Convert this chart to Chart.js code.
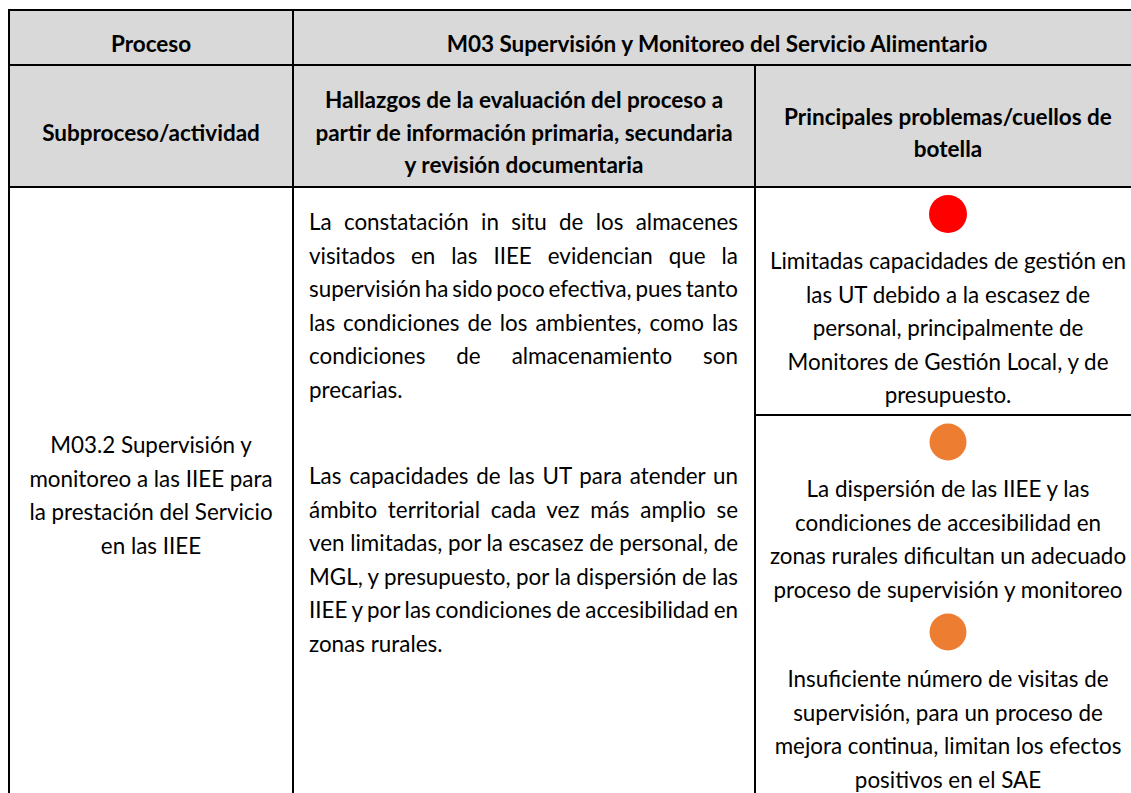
<!DOCTYPE html>
<html lang="es">
<head>
<meta charset="utf-8">
<title>M03 Supervisión y Monitoreo del Servicio Alimentario</title>
<script src="https://cdn.jsdelivr.net/npm/chart.js@4.4.1/dist/chart.umd.min.js"></script>
<style>
  html, body { margin: 0; padding: 0; background: #fff; }
  body { width: 1131px; height: 793px; overflow: hidden; position: relative;
         font-family: "Lato", "Open Sans", sans-serif; color: #000; }
  .cell { position: absolute; box-sizing: border-box; border: 2px solid #000; }
  .head { background: #d9d9d9; font-weight: bold; font-size: 22.5px; line-height: 32.5px;
          display: flex; align-items: center; justify-content: center; text-align: center; }
  .body-txt { font-size: 22.4px; line-height: 33.5px; }
  .center-v { display: flex; align-items: center; justify-content: center; text-align: center; }
  .just span { display: block; text-align: justify; text-align-last: justify; white-space: nowrap; word-spacing: -3px; }
  .just span.last { text-align-last: left; word-spacing: 0; }
  .problema { text-align: center; }
  .problema .dot { width: 40px; height: 40px; margin: 6px auto 0; position: relative; }
  .problema .txt { margin-top: 10px; white-space: nowrap; }
</style>
</head>
<body>
<div id="tabla"></div>
<script>
// --- Contenido de la tabla ---
const tituloProceso = "M03 Supervisión y Monitoreo del Servicio Alimentario";
const encabezados = ["Proceso", "Subproceso/actividad"];
const encabezadoHallazgos = ["Hallazgos de la evaluación del proceso a", "partir de información primaria, secundaria", "y revisión documentaria"];
const encabezadoProblemas = ["Principales problemas/cuellos de", "botella"];
const subproceso = ["M03.2 Supervisión y", "monitoreo a las IIEE para", "la prestación del Servicio", "en las IIEE"];

const hallazgo1 = [
  "La constatación in situ de los almacenes",
  "visitados en las IIEE evidencian que la",
  "supervisión ha sido poco efectiva, pues tanto",
  "las condiciones de los ambientes, como las",
  "condiciones de almacenamiento son",
  "precarias."
];
const hallazgo2 = [
  "Las capacidades de las UT para atender un",
  "ámbito territorial cada vez más amplio se",
  "ven limitadas, por la escasez de personal, de",
  "MGL, y presupuesto, por la dispersión de las",
  "IIEE y por las condiciones de accesibilidad en",
  "zonas rurales."
];

const problemas = [
  ["Limitadas capacidades de gestión en", "las UT debido a la escasez de", "personal, principalmente de", "Monitores de Gestión Local, y de", "presupuesto."],
  ["La dispersión de las IIEE y las", "condiciones de accesibilidad en", "zonas rurales dificultan un adecuado", "proceso de supervisión y monitoreo"],
  ["Insuficiente número de visitas de", "supervisión, para un proceso de", "mejora continua, limitan los efectos", "positivos en el SAE"]
];
const nivelProblema = ["alto", "medio", "medio"];
const colorNivel = { alto: "#ff0000", medio: "#ed7d31" };
// celda de la columna de problemas en la que va cada problema
const celdaProblema = [0, 1, 1];

// --- Rejilla (bordes) ---
const xs = [8, 292, 754, 1140];
const ys = [9, 64, 186, 414, 802];

function celda(x0, x1, y0, y1, cls, html, extra) {
  const d = document.createElement("div");
  d.className = "cell " + cls;
  d.style.left = x0 + "px";
  d.style.top = y0 + "px";
  d.style.width = (x1 - x0 + 2) + "px";
  d.style.height = (y1 - y0 + 2) + "px";
  if (extra) Object.assign(d.style, extra);
  d.innerHTML = html;
  document.getElementById("tabla").appendChild(d);
  return d;
}

// fila 1
celda(xs[0], xs[1], ys[0], ys[1], "head", encabezados[0], { paddingTop: "13px" });
celda(xs[1], xs[3], ys[0], ys[1], "head", tituloProceso, { paddingTop: "13px" });
// fila 2
celda(xs[0], xs[1], ys[1], ys[2], "head", encabezados[1], { paddingTop: "14px" });
celda(xs[1], xs[2], ys[1], ys[2], "head", encabezadoHallazgos.join("<br>"), { paddingTop: "14px" });
celda(xs[2], xs[3], ys[1], ys[2], "head", encabezadoProblemas.join("<br>"), { paddingTop: "14px" });
// cuerpo
celda(xs[0], xs[1], ys[2], ys[4], "body-txt center-v", subproceso.join("<br>"));

const justificar = (lineas) => lineas.map((l, i) =>
  `<span class="${i === lineas.length - 1 ? "last" : ""}">${l}</span>`).join("");
celda(xs[1], xs[2], ys[2], ys[4], "body-txt just",
  `<div>${justificar(hallazgo1)}</div><div style="margin-top:53px">${justificar(hallazgo2)}</div>`,
  { padding: "17px 16px 0 15px" });

const celdasProb = [
  celda(xs[2], xs[3], ys[2], ys[3], "body-txt", ""),
  celda(xs[2], xs[3], ys[3], ys[4], "body-txt", "")
];

// --- Indicadores de nivel (Chart.js) ---
problemas.forEach((lineas, i) => {
  const item = document.createElement("div");
  item.className = "problema";
  const caja = document.createElement("div");
  caja.className = "dot";
  const cv = document.createElement("canvas");
  caja.appendChild(cv);
  const txt = document.createElement("div");
  txt.className = "txt";
  txt.innerHTML = lineas.join("<br>");
  item.appendChild(caja);
  item.appendChild(txt);
  celdasProb[celdaProblema[i]].appendChild(item);

  const color = colorNivel[nivelProblema[i]];
  const r = nivelProblema[i] === "alto" ? 19 : 18.5;
  new Chart(cv, {
    type: "scatter",
    data: {
      datasets: [{
        label: nivelProblema[i],
        data: [{ x: 0, y: 0 }],
        backgroundColor: color,
        borderColor: color,
        borderWidth: 0,
        pointRadius: r,
        pointHoverRadius: r,
        clip: false
      }]
    },
    options: {
      responsive: true,
      maintainAspectRatio: false,
      animation: false,
      events: [],
      layout: { padding: 0 },
      elements: { point: { radius: r, backgroundColor: color, borderWidth: 0 } },
      scales: {
        x: { display: false, min: -1, max: 1 },
        y: { display: false, min: -1, max: 1 }
      },
      plugins: { legend: { display: false }, tooltip: { enabled: false } }
    }
  });
});
</script>
</body>
</html>
